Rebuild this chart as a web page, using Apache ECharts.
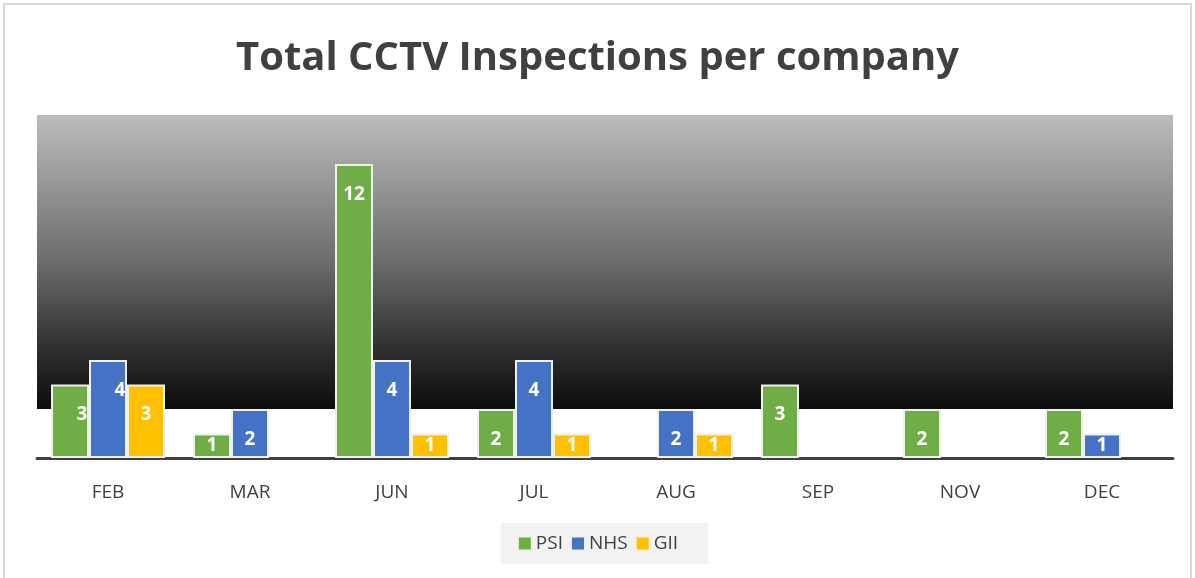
<!DOCTYPE html>
<html>
<head>
<meta charset="utf-8">
<title>Total CCTV Inspections per company</title>
<script src="https://cdn.jsdelivr.net/npm/echarts@6/dist/echarts.min.js"></script>
<style>
  html, body { margin: 0; padding: 0; background: #fff; overflow: hidden; }
  #chart { width: 1195px; height: 578px; }
  #frame { position: absolute; left: 3px; top: 3px; width: 1185px; height: 600px;
           border: 2px solid #d9d9d9; pointer-events: none; }
</style>
</head>
<body>
<div id="chart"></div>
<div id="frame"></div>
<script>
// months shown on the x axis
var months = ['FEB', 'MAR', 'JUN', 'JUL', 'AUG', 'SEP', 'NOV', 'DEC'];
// inspections per company (null = no bar)
var psi = [3, 1, 12, 2, null, 3, 2, 2];
var nhs = [4, 2, 4, 4, 2, null, null, 1];
var gii = [3, null, 1, 1, 1, null, null, null];
// band of the plot with the dark gradient (value range)
var bandRange = [2, 14];

var myChart = echarts.init(document.getElementById('chart'));

// labels sit near the top of the bar, short bars get them in the middle
function withLabels(data, shiftFirst) {
    return data.map(function (v, i) {
        if (v == null) return null;
        var lbl = v <= 1 ? { position: 'inside' } : { position: 'insideTop', distance: 21 };
        if (shiftFirst && i === 0) lbl.offset = [12, 0];
        return { value: v, label: lbl };
    });
}

function barSeries(name, data, color, shiftFirst) {
    return {
        name: name,
        type: 'bar',
        data: withLabels(data, shiftFirst),
        z: 3,
        barWidth: 38,
        barGap: '0%',
        itemStyle: { color: color, borderColor: '#eef0ec', borderWidth: 2 },
        label: {
            show: true,
            color: '#fff',
            fontWeight: 'bold',
            fontSize: 19,
            fontFamily: 'Open Sans'
        }
    };
}

myChart.setOption({
    animation: false,
    title: {
        text: 'Total CCTV Inspections per company',
        left: 'center',
        top: 34,
        textStyle: { fontSize: 40, fontWeight: 'bold', color: '#404040', fontFamily: 'Open Sans' }
    },
    legend: {
        data: ['PSI', 'NHS', 'GII'],
        top: 523,
        left: 'center',
        backgroundColor: '#f2f2f2',
        padding: [11, 30, 11, 16],
        icon: 'rect',
        itemWidth: 14,
        itemHeight: 14,
        itemGap: 7,
        textStyle: { fontSize: 19, color: '#404040', fontFamily: 'Open Sans', padding: [0, 0, 0, -1] }
    },
    grid: { left: 37, right: 22, top: 115, bottom: 120 },
    xAxis: {
        type: 'category',
        data: months,
        axisLine: { lineStyle: { color: '#404040', width: 3 } },
        axisTick: { show: false },
        axisLabel: { fontSize: 19, color: '#404040', margin: 25, fontFamily: 'Open Sans' }
    },
    yAxis: {
        type: 'value',
        min: 0,
        max: 14,
        show: false,
        splitLine: { show: false }
    },
    series: [
        {
            name: 'bg',
            type: 'line',
            data: [],
            z: 1,
            silent: true,
            markArea: {
                silent: true,
                itemStyle: {
                    color: new echarts.graphic.LinearGradient(0, 0, 0, 1, [
                        { offset: 0, color: '#bcbcbc' },
                        { offset: 0.5, color: '#6c6c6c' },
                        { offset: 0.8, color: '#2e2e2e' },
                        { offset: 1, color: '#0c0c0c' }
                    ])
                },
                data: [[{ yAxis: bandRange[1] }, { yAxis: bandRange[0] }]]
            }
        },
        barSeries('PSI', psi, '#70AD47', true),
        barSeries('NHS', nhs, '#4472C4', true),
        barSeries('GII', gii, '#FFC000', false)
    ]
});
</script>
</body>
</html>
